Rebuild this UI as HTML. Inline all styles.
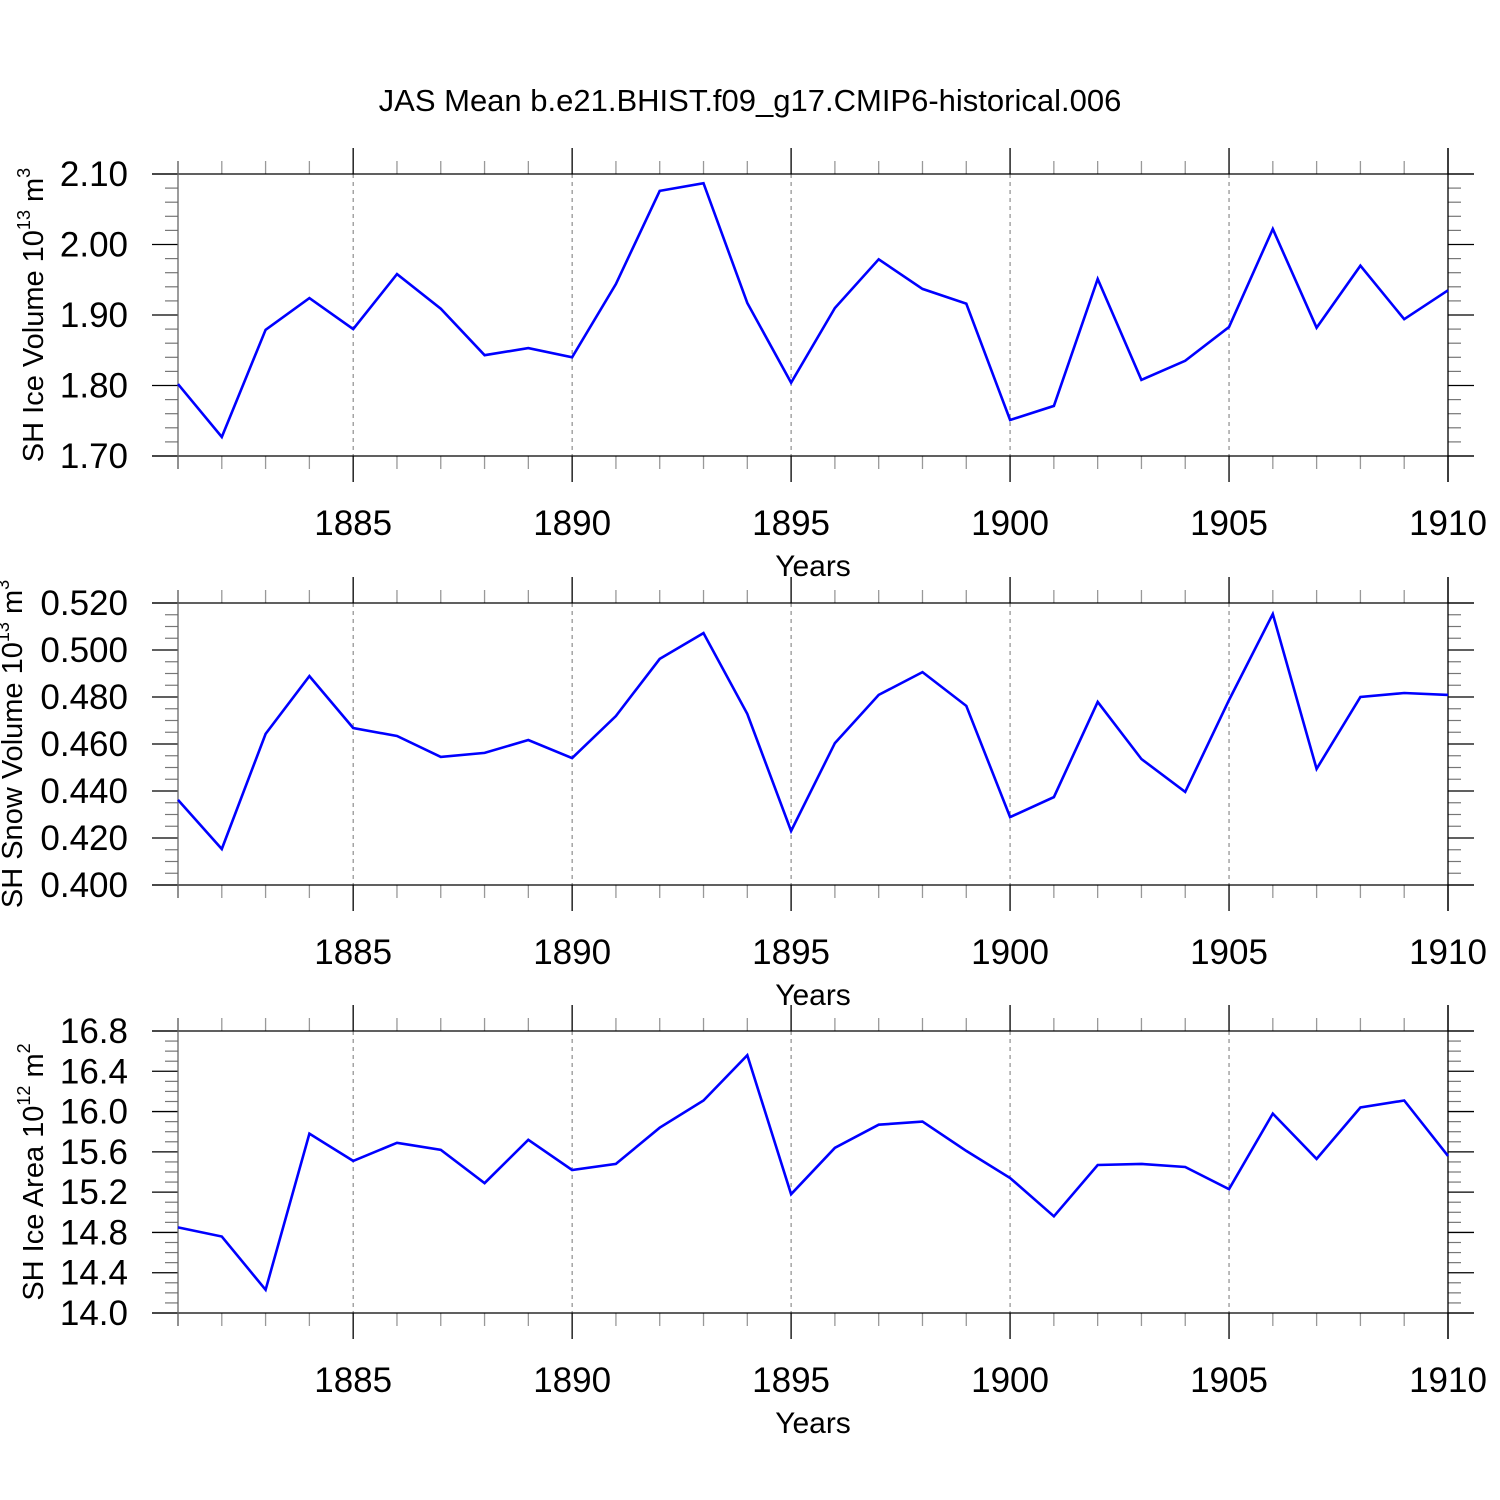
<!DOCTYPE html>
<html><head><meta charset="utf-8"><style>
html,body{margin:0;padding:0;background:#fff}
svg{display:block}
text{font-family:"Liberation Sans",sans-serif;fill:#000}
</style></head><body>
<svg id="chart" width="1500" height="1500" viewBox="0 0 1500 1500" xmlns="http://www.w3.org/2000/svg">
<rect width="1500" height="1500" fill="#fff"/>
<text x="750" y="111" font-size="31" text-anchor="middle">JAS Mean b.e21.BHIST.f09_g17.CMIP6-historical.006</text>
</svg>
<script>
const years = [1881,1882,1883,1884,1885,1886,1887,1888,1889,1890,1891,1892,1893,1894,1895,1896,1897,1898,1899,1900,1901,1902,1903,1904,1905,1906,1907,1908,1909,1910];
const iceVolume = [1.802,1.727,1.879,1.924,1.880,1.958,1.909,1.843,1.853,1.840,1.944,2.076,2.087,1.917,1.804,1.910,1.979,1.937,1.916,1.751,1.771,1.951,1.808,1.835,1.883,2.022,1.882,1.970,1.894,1.935];
const snowVolume = [0.4362,0.4153,0.4643,0.4889,0.4668,0.4634,0.4545,0.4562,0.4617,0.4540,0.4719,0.4962,0.5072,0.4728,0.4230,0.4604,0.4809,0.4906,0.4762,0.4289,0.4374,0.4779,0.4536,0.4396,0.4787,0.5153,0.4494,0.4800,0.4817,0.4809];
const iceArea = [14.85,14.76,14.23,15.78,15.51,15.69,15.62,15.29,15.72,15.42,15.48,15.84,16.11,16.56,15.18,15.64,15.87,15.90,15.61,15.34,14.96,15.47,15.48,15.45,15.23,15.98,15.53,16.04,16.11,15.56];
const xTickLabels = [1885,1890,1895,1900,1905,1910];
const iceVolumeTicks = ["1.70","1.80","1.90","2.00","2.10"];
const snowVolumeTicks = ["0.400","0.420","0.440","0.460","0.480","0.500","0.520"];
const iceAreaTicks = ["14.0","14.4","14.8","15.2","15.6","16.0","16.4","16.8"];

const NS="http://www.w3.org/2000/svg";
const svg=document.getElementById('chart');
function mk(tag,attrs,parent){const e=document.createElementNS(NS,tag);for(const k in attrs)e.setAttribute(k,attrs[k]);(parent||svg).appendChild(e);return e;}
const X0=178,X1=1448,Y0=1881,Y1=1910;
function xs(v){return X0+(v-Y0)/(Y1-Y0)*(X1-X0);}

function panel(name,top,ticks,minorPer,data,titleMain,titleSup,titleEnd,titleX){
  const bot=top+282;
  const lo=parseFloat(ticks[0]),hi=parseFloat(ticks[ticks.length-1]);
  const ys=v=>bot-(v-lo)/(hi-lo)*(bot-top);
  const g=mk('g',{});
  
  
  for(let y=1885;y<1910;y+=5){
    const l=mk('line',{x1:xs(y),x2:xs(y),y1:top,y2:bot,stroke:'#777','stroke-width':1,'stroke-dasharray':'4,4'},g);
    
    
  }
  for(let y=Y0;y<=Y1;y++){
    const major=(y%5===0);
    const len=major?26:13;
    const col=major?'#000':'#999';
    mk('line',{x1:xs(y),x2:xs(y),y1:top-len,y2:top,stroke:col,'stroke-width':1.3},g);
    mk('line',{x1:xs(y),x2:xs(y),y1:bot,y2:bot+len,stroke:col,'stroke-width':1.3},g);
  }
  const step=(hi-lo)/(ticks.length-1);
  for(let i=0;i<ticks.length;i++){
    const v=lo+i*step,y=ys(v);
    mk('line',{x1:X0-26,x2:X0,y1:y,y2:y,stroke:'#000','stroke-width':1.3},g);
    mk('line',{x1:X1,x2:X1+26,y1:y,y2:y,stroke:'#000','stroke-width':1.3},g);
    const t=mk('text',{x:128,y:y+12,'font-size':35,'text-anchor':'end'},g);
    t.textContent=ticks[i];
    
    
    if(i<ticks.length-1){
      for(let m=1;m<=minorPer;m++){
        const ym=ys(v+step*m/(minorPer+1));
        mk('line',{x1:X0-13,x2:X0,y1:ym,y2:ym,stroke:'#777','stroke-width':1.2},g);
        mk('line',{x1:X1,x2:X1+13,y1:ym,y2:ym,stroke:'#777','stroke-width':1.2},g);
      }
    }
  }
  mk('line',{x1:152,x2:1474,y1:top,y2:top,stroke:'#000','stroke-width':1.3},g);
  mk('line',{x1:152,x2:1474,y1:bot,y2:bot,stroke:'#000','stroke-width':1.3},g);
  mk('line',{x1:X0,x2:X0,y1:top-13,y2:bot+13,stroke:'#666','stroke-width':1.3},g);
  mk('line',{x1:X1,x2:X1,y1:top-26,y2:bot+26,stroke:'#000','stroke-width':1.3},g);
  xTickLabels.forEach(v=>{
    const t=mk('text',{x:xs(v),y:bot+79,'font-size':35,'text-anchor':'middle'},g);
    t.textContent=v;
    
    
  });
  const xt=mk('text',{x:813,y:bot+120,'font-size':30,'text-anchor':'middle'},g);
  xt.textContent='Years';
  
  
  const cy=(top+bot)/2;
  const yt=mk('text',{x:0,y:0,'font-size':29,'text-anchor':'middle',transform:'translate('+titleX+','+cy+') rotate(-90)'},g);
  
  
  const a=mk('tspan',{},yt);a.textContent=titleMain;
  const b=mk('tspan',{dy:-13,'font-size':18},yt);b.textContent=titleSup;
  const c=mk('tspan',{dy:13},yt);c.textContent=' m';
  const d=mk('tspan',{dy:-13,'font-size':18},yt);d.textContent=titleEnd;
  const pts=years.map((yr,i)=>xs(yr).toFixed(1)+','+ys(data[i]).toFixed(1)).join(' ');
  const pl=mk('polyline',{points:pts,fill:'none',stroke:'#0000ff','stroke-width':2.6,'stroke-linejoin':'miter'},g);
  
  
}
panel('ice-volume',174,iceVolumeTicks,4,iceVolume,'SH Ice Volume 10','13','3',43);
panel('snow-volume',603,snowVolumeTicks,3,snowVolume,'SH Snow Volume 10','13','3',22);
panel('ice-area',1031,iceAreaTicks,3,iceArea,'SH Ice Area 10','12','2',43);
</script>
</body></html>
